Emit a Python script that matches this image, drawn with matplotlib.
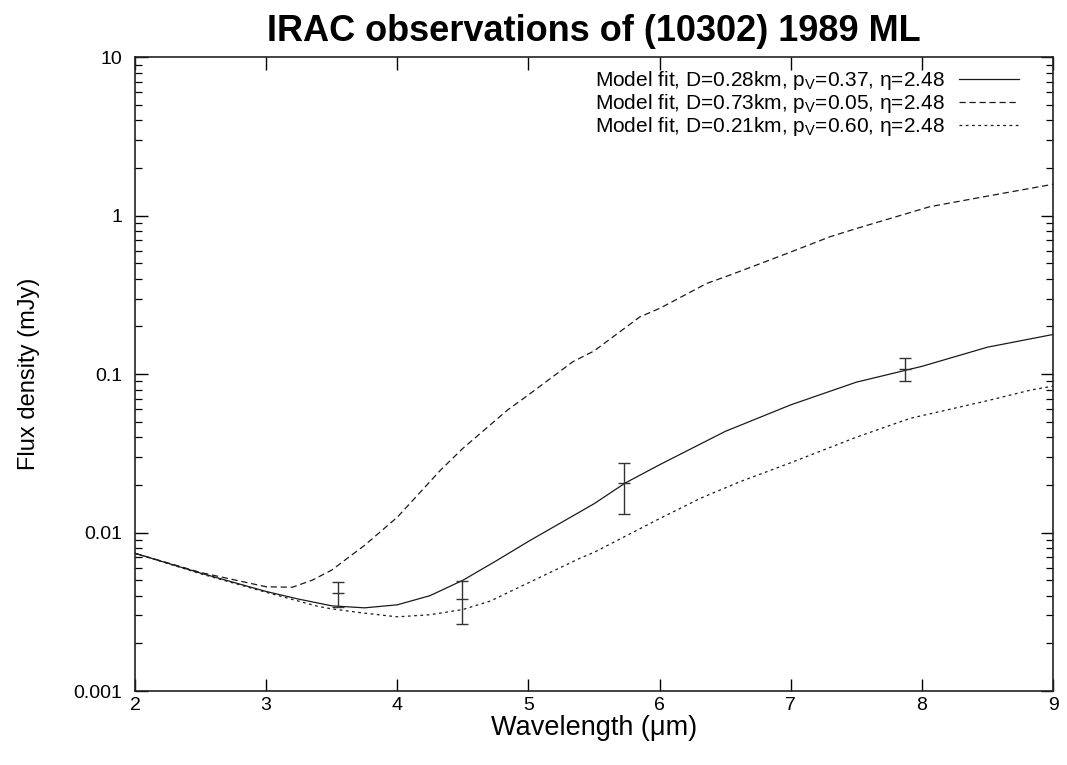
#!/usr/bin/env python3
"""
IRAC observations of (10302) 1989 ML - model fits vs measured fluxes
"""

import matplotlib
matplotlib.use('Agg')
import matplotlib.pyplot as plt
import numpy as np

plt.rcParams['font.family'] = ['Liberation Sans', 'DejaVu Sans']
plt.rcParams['mathtext.fontset'] = 'custom'
plt.rcParams['mathtext.rm'] = 'Liberation Sans'
plt.rcParams['mathtext.it'] = 'Liberation Sans:italic'

# Model fit D=0.28km, pV=0.37 (solid)
wl_a = [2.0, 2.5, 3.0, 3.25, 3.5, 3.75, 4.0, 4.25, 4.5, 4.75, 5.0, 5.5, 5.74,
        6.0, 6.5, 7.0, 7.5, 8.0, 8.5, 9.0]
flux_a = [0.0074, 0.00555, 0.00425, 0.0038, 0.00345, 0.00335, 0.0035, 0.0040,
          0.0050, 0.0066, 0.0088, 0.0152, 0.0206, 0.0268, 0.0435, 0.064,
          0.089, 0.112, 0.148, 0.178]

# Model fit D=0.73km, pV=0.05 (dashed)
wl_b = [2.0, 2.5, 3.0, 3.2, 3.35, 3.5, 3.75, 4.0, 4.33, 4.5, 4.84, 5.0, 5.34,
        5.5, 5.85, 6.0, 6.36, 6.54, 7.0, 7.3, 7.5, 8.06, 8.5, 8.83, 9.0]
flux_b = [0.0074, 0.0056, 0.00455, 0.00452, 0.0050, 0.0058, 0.0083, 0.0125,
          0.0248, 0.034, 0.0593, 0.074, 0.12, 0.14, 0.23, 0.26, 0.374, 0.423,
          0.59, 0.737, 0.83, 1.14, 1.33, 1.49, 1.58]

# Model fit D=0.21km, pV=0.60 (dotted)
wl_c = [2.0, 2.5, 3.0, 3.39, 3.5, 3.75, 4.0, 4.25, 4.5, 4.71, 5.0, 5.39, 5.5,
        6.0, 6.31, 6.61, 7.0, 7.5, 7.91, 8.5, 8.83, 9.0]
flux_c = [0.0074, 0.0055, 0.0042, 0.00343, 0.0033, 0.0031, 0.00294, 0.00303,
          0.00327, 0.0037, 0.00482, 0.00687, 0.0075, 0.01225, 0.01644, 0.0209,
          0.0276, 0.040, 0.0526, 0.068, 0.0794, 0.084]

# IRAC measurements
obs_wl = [3.55, 4.49, 5.73, 7.87]
obs_flux = [0.00413, 0.00379, 0.0206, 0.1076]
obs_lo = [0.0034, 0.00263, 0.0131, 0.0908]
obs_hi = [0.00489, 0.00494, 0.0276, 0.126]

labels = [
    'Model fit, D=0.28km, p$_{\\mathrm{V}}$=0.37, \u03b7=2.48',
    'Model fit, D=0.73km, p$_{\\mathrm{V}}$=0.05, \u03b7=2.48',
    'Model fit, D=0.21km, p$_{\\mathrm{V}}$=0.60, \u03b7=2.48',
]

x_ticks = [2, 3, 4, 5, 6, 7, 8, 9]
y_ticks = [0.001, 0.01, 0.1, 1, 10]
y_tick_labels = ['0.001', '0.01', '0.1', '1', '10']

fig = plt.figure(figsize=(10.67, 7.65), dpi=100)
ax = fig.add_axes([0.1265, 0.0967, 0.8604, 0.8284])

line_color = '#1a1a1a'
ax.plot(wl_a, flux_a, color=line_color, lw=0.9, ls='-', label=labels[0])
ax.plot(wl_b, flux_b, color=line_color, lw=0.9, ls=(0, (5, 3)), label=labels[1])
ax.plot(wl_c, flux_c, color=line_color, lw=0.9, ls=(0, (2.2, 2.8)), label=labels[2])

yerr = [np.array(obs_flux) - np.array(obs_lo), np.array(obs_hi) - np.array(obs_flux)]
ax.errorbar(obs_wl, obs_flux, yerr=yerr, fmt='_', color='#333333', ms=9,
            mew=1.0, elinewidth=1.0, capsize=4, capthick=1.0)

ax.set_yscale('log')
ax.set_xlim(2, 9)
ax.set_ylim(0.001, 10)
ax.set_xticks(x_ticks)
ax.set_xticklabels([str(t) for t in x_ticks])
ax.set_yticks(y_ticks)
ax.set_yticklabels(y_tick_labels)

ax.tick_params(which='both', direction='in', top=True, right=True,
               labelsize=14)
ax.tick_params(axis='x', pad=4)
ax.tick_params(axis='y', pad=9)
ax.tick_params(which='major', length=9, width=1.0)
ax.tick_params(which='minor', length=5, width=0.9)
for s in ax.spines.values():
    s.set_linewidth(1.2)
    s.set_color('#222222')

ax.set_xlabel('Wavelength (\u03bcm)', fontsize=19.5, labelpad=1)
ax.set_ylabel('Flux density (mJy)', fontsize=17, labelpad=24)
ax.set_title('IRAC observations of (10302) 1989 ML', fontsize=26,
             fontweight='bold', pad=12)

# legend: sample line ends ~26px inside the right frame
leg = ax.legend(loc='upper right', bbox_to_anchor=(0.972, 0.995),
                frameon=False, fontsize=15, markerfirst=False,
                handlelength=2.9, handletextpad=0.65,
                labelspacing=0.0, borderaxespad=0.0)

fig.savefig('out.png', dpi=100)
